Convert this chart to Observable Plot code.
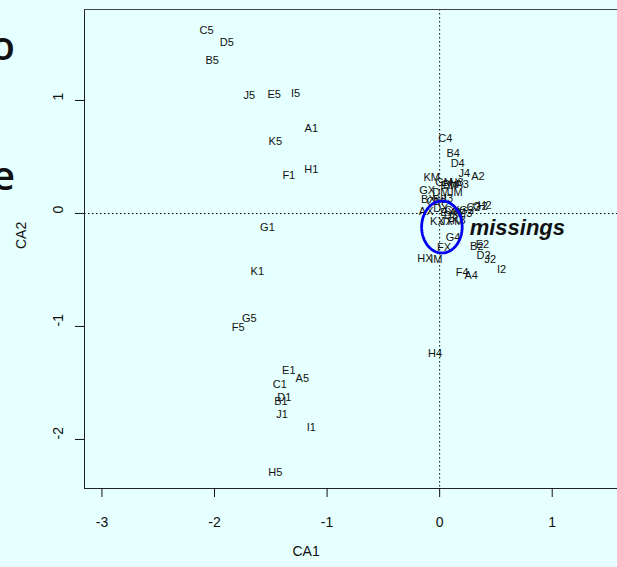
<!DOCTYPE html>
<html><head><meta charset="utf-8">
<script src="https://cdn.jsdelivr.net/npm/d3@7"></script>
<script src="https://cdn.jsdelivr.net/npm/@observablehq/plot@0.6"></script>
<style>
html,body{margin:0;padding:0;background:#E6FFFF;overflow:hidden}
#wrap{position:relative;width:617px;height:567px}
#slide{position:absolute;left:0;top:0;pointer-events:none}
</style></head><body><div id="wrap"></div>
<script>
const labels = ["C5","D5","B5","J5","E5","I5","A1","K5","H1","F1","G1","K1","G5","F5","E1","A5","C1","D1","B1","J1","I1","H5","H4",
  "C4","B4","D4","J4","A2","KM","GM","BM","H3","A3","GX","DM","JM","BX","CM","AX","DX","EX","CX","AM","E3","KX","JX","FM",
  "C2","G2","H2","G4","FX","B2","E2","HX","IM","D2","J2","I2","F4","A4",
  "EM","B3","I3","D3","K3","G3"];
const ca1 = [-2.07,-1.89,-2.02,-1.69,-1.47,-1.28,-1.14,-1.46,-1.14,-1.34,-1.53,-1.62,-1.69,-1.79,-1.34,-1.22,-1.42,-1.38,-1.41,-1.40,-1.14,-1.46,-0.04,
  0.05,0.12,0.16,0.22,0.34,-0.07,0.04,0.10,0.15,0.20,-0.11,0.01,0.14,-0.10,-0.04,-0.12,0.01,0.07,0.11,0.16,0.23,-0.02,0.06,0.14,
  0.30,0.36,0.40,0.12,0.04,0.33,0.38,-0.13,-0.03,0.39,0.45,0.55,0.20,0.28,
  0.08,0.00,0.08,0.10,0.17,0.24];
const ca2 = [1.62,1.51,1.35,1.04,1.05,1.06,0.75,0.64,0.39,0.34,-0.12,-0.51,-0.93,-1.01,-1.39,-1.46,-1.51,-1.63,-1.66,-1.78,-1.89,-2.29,-1.24,
  0.66,0.53,0.44,0.35,0.33,0.32,0.27,0.26,0.27,0.26,0.20,0.19,0.19,0.12,0.11,0.02,0.04,0.01,0.03,0.01,0.00,-0.07,-0.07,-0.07,
  0.05,0.06,0.07,-0.21,-0.30,-0.29,-0.27,-0.40,-0.41,-0.37,-0.41,-0.50,-0.52,-0.55,
  0.25,0.12,0.13,-0.02,-0.06,0.03];
const xTicks = [-3,-2,-1,0,1];
const yTicks = [1,0,-1,-2];
const xDomain = [-3.155,1.58];
const yDomain = [-2.434,1.805];
const note = [{label:"missings", x:0.69, y:-0.13}];
const ellipse = {cx:0.02, cy:-0.12, rx:0.18, ry:0.23};

const pts = labels.map((l,i)=>({label:l, ca1:ca1[i], ca2:ca2[i]}));
const ell = d3.range(0,101).map(k=>{const t=2*Math.PI*k/100; return {x:ellipse.cx+ellipse.rx*Math.cos(t), y:ellipse.cy+ellipse.ry*Math.sin(t)};});

const font = "'Liberation Sans', Arial, Helvetica, sans-serif";
const chart = Plot.plot({
  width:617, height:567,
  marginLeft:84, marginRight:0, marginTop:9, marginBottom:79,
  x:{domain:xDomain}, y:{domain:yDomain},
  style:{background:"transparent", fontFamily:font, color:"#111", overflow:"visible"},
  marks:[
    Plot.ruleX([0],{stroke:"#000", strokeDasharray:"1.5,2.5"}),
    Plot.ruleY([0],{stroke:"#000", strokeDasharray:"1.5,2.5"}),
    Plot.ruleX([xDomain[0]],{stroke:"#222"}),
    Plot.ruleY([yDomain[0]],{stroke:"#222"}),
    Plot.ruleY([yDomain[1]],{stroke:"#444"}),
    Plot.axisX({ticks:xTicks, tickSize:9, tickPadding:20, fontSize:14, tickFormat:d=>String(d), label:null}),
    Plot.axisY({ticks:yTicks, tickSize:9, tickFormat:()=>"", label:null}),
    Plot.text(yTicks,{y:d=>d, text:d=>String(d), frameAnchor:"left", dx:-26, rotate:-90, fontSize:14}),
    Plot.text(["CA2"],{text:d=>d, frameAnchor:"left", dx:-63, rotate:-90, fontSize:14}),
    Plot.text(["CA1"],{text:d=>d, frameAnchor:"bottom-left", dx:208, dy:67, fontSize:14}),
    Plot.text(pts,{x:"ca1", y:"ca2", text:"label", fontSize:11, fill:"#111"}),
    Plot.line(ell,{x:"x", y:"y", stroke:"#0000EE", strokeWidth:2.8}),
    Plot.text(note,{x:"x", y:"y", text:"label", fontSize:22, fontWeight:"bold", fontStyle:"italic", fill:"#111"})
  ]
});
const wrap = document.getElementById("wrap");
wrap.appendChild(chart);
const ns = "http://www.w3.org/2000/svg";
const slide = document.createElementNS(ns,"svg");
slide.setAttribute("id","slide"); slide.setAttribute("width","617"); slide.setAttribute("height","567");
[["o",60],["e",190]].forEach(([t,y])=>{
  const el = document.createElementNS(ns,"text");
  el.setAttribute("x","15"); el.setAttribute("y",String(y));
  el.setAttribute("text-anchor","end");
  el.setAttribute("font-family","'Open Sans', 'Noto Sans', sans-serif");
  el.setAttribute("font-weight","600"); el.setAttribute("font-size","40");
  el.setAttribute("fill","#111");
  el.textContent = t; slide.appendChild(el);
});
wrap.appendChild(slide);
</script></body></html>
